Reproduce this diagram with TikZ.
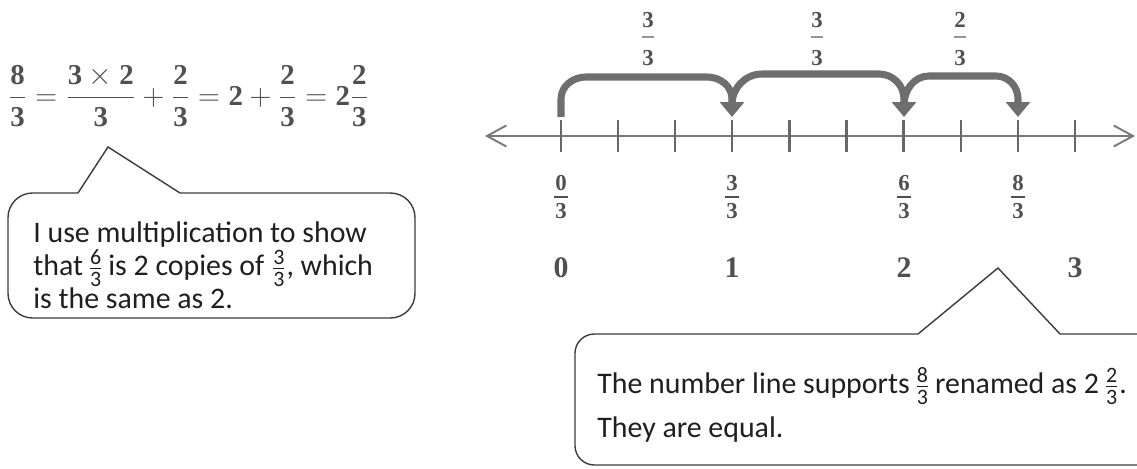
\documentclass[tikz,border=0pt]{standalone}
\usepackage{fontspec}
\setmainfont{Liberation Serif}
\newfontfamily\calfont{Carlito}
\usetikzlibrary{arrows.meta,calc}
\definecolor{eqgray}{HTML}{505050}
\definecolor{linegray}{HTML}{7A7A7A}
\definecolor{jumpgray}{HTML}{6E6E6E}
\definecolor{boxline}{HTML}{3C3C3C}
\newcommand\sfr[2]{\ensuremath{\textstyle{\mbox{\fontsize{12.5}{12.5}\selectfont#1}\over\mbox{\fontsize{12.5}{12.5}\selectfont#2}}}}
\newcommand\eqtext{$\displaystyle \mathbf{\frac{8}{3}}=\mathbf{\frac{3\times2}{3}}+\mathbf{\frac{2}{3}}=\mathbf{2}+\mathbf{\frac{2}{3}}=\mathbf{2\frac{2}{3}}$}
\begin{document}
\begin{tikzpicture}[x=0.02cm,y=-0.02cm,
  bubble/.style={draw=boxline,line width=0.8pt},
  btext/.style={anchor=base west,inner sep=0,font=\calfont\fontsize{17}{20}\selectfont,text=black!88},
  numline/.style={draw=linegray,line width=1.1pt},
  tickmark/.style={draw=linegray!85!black,line width=1.3pt},
  jump/.style={draw=jumpgray,line width=4pt,-{Triangle[length=8.5pt,width=13.5pt]}},
  lab/.style={inner sep=0,text=eqgray,font=\bfseries\fontsize{13}{13}\selectfont},
  whole/.style={inner sep=0,text=eqgray,font=\bfseries\fontsize{17}{17}\selectfont},
  fbar/.style={draw=eqgray,line width=1.4pt},
  tbar/.style={draw=eqgray!60,line width=0.8pt}]
\useasboundingbox (0,0) rectangle (1137,469);

% equation
\node[anchor=west,inner sep=0,text=eqgray,font=\fontsize{16.4}{19}\selectfont] (eqn) at (8,96) {\eqtext};

% left callout
\draw[bubble,rounded corners=14pt] (180,193) -- (415,193) -- (415,318) -- (8,318) -- (8,193) -- (78,193);
\draw[bubble] (78,193) -- (108,147) -- (180,193);
\node[btext] (l1) at (33,243) {I use multiplication to show};
\node[btext] (l2) at (33,276) {that\,\sfr{6}{3}\,is 2 copies of \sfr{3}{3}, which};
\node[btext] (l3) at (33,309) {is the same as 2.};

% number line
\coordinate (L) at (485,136);
\coordinate (R) at (1135,136);
\draw[numline,{Straight Barb[length=11pt,width=12pt]}-{Straight Barb[length=11pt,width=12pt]}] (L) -- (R);
\foreach \i in {0,...,9} {
  \coordinate (tk\i) at ({561+57.1*\i},120);
  \draw[tickmark] (tk\i) -- ++(0,32);
}

% jumps
\coordinate (j0) at (561,117);
\coordinate (j1) at (732,117);
\coordinate (j2) at (904,117);
\coordinate (j3) at (1018,117);
\draw[jump] (j0) -- ++(0,-18) to[out=90,in=180] ++(25,-22) -- ($(j1)+(-25,-40)$) to[out=0,in=90] ($(j1)+(0,-18)$) -- (j1);
\draw[jump] ($(j1)+(0,-12)$) to[out=90,in=180] ($(j1)+(30,-43)$) -- ($(j2)+(-25,-43)$) to[out=0,in=90] ($(j2)+(0,-18)$) -- (j2);
\draw[jump] ($(j2)+(0,-12)$) to[out=90,in=180] ($(j2)+(25,-41)$) -- ($(j3)+(-22,-41)$) to[out=0,in=90] ($(j3)+(0,-18)$) -- (j3);

% jump labels
\foreach \x/\n [count=\k] in {648/3,817/3,960/2} {
  \node[lab] (jn\k) at (\x,20) {\n};
  \draw[tbar] (\x-6,37) -- (\x+6,37);
  \node[lab] (jd\k) at (\x,58) {3};
}

% fraction labels under the line
\foreach \x/\n [count=\k] in {561/0,732/3,904/6,1018/8} {
  \node[lab] (fn\k) at (\x,183) {\n};
  \draw[fbar] (\x-7,197) -- (\x+7,197);
  \node[lab] (fd\k) at (\x,211) {3};
}
\foreach \x/\n [count=\k] in {561/0,732/1,904/2,1075/3} {
  \node[whole] (w\k) at (\x,268) {\n};
}

% right callout
\draw[bubble,rounded corners=11pt] (918,334) -- (575,334) -- (575,465) -- (1137,465);
\draw[bubble] (918,334) -- (998,268) -- (1060,334) -- (1137,334);
\node[btext] (r1) at (597,394) {The number line supports\,\sfr{8}{3}\,renamed as 2\,\sfr{2}{3}.};
\node[btext] (r2) at (597,438) {They are equal.};
\end{tikzpicture}
\end{document}
